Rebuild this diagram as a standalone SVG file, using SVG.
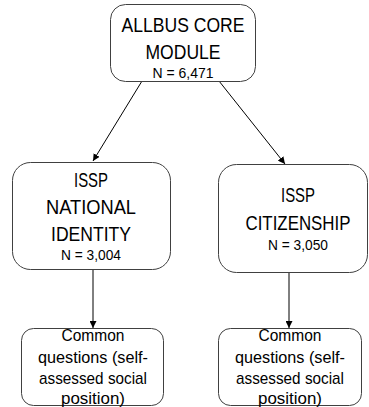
<svg xmlns="http://www.w3.org/2000/svg" width="369" height="407" viewBox="0 0 369 407">
<defs>
<marker id="ah" viewBox="0 0 10 10" refX="10" refY="5" markerWidth="7" markerHeight="7" orient="auto" markerUnits="userSpaceOnUse">
<path d="M0,0 L10,5 L0,10 z" fill="#000"/>
</marker>
<style>
.box{fill:#fff;stroke:#404040;stroke-width:1}
.t{font-family:"Liberation Sans",Arial,sans-serif;fill:#000;text-anchor:middle}
.big{font-size:21px}
.sm{font-size:15px}
.md{font-size:17px}
.ln{stroke:#000;stroke-width:1;fill:none;marker-end:url(#ah)}
</style>
</defs>
<rect width="369" height="407" fill="#fff"/>
<g id="connectors">
<line class="ln" x1="142" y1="81" x2="93" y2="161"/>
<line class="ln" x1="219" y1="81" x2="285" y2="164"/>
<line class="ln" x1="93" y1="270" x2="93" y2="328"/>
<line class="ln" x1="289" y1="273" x2="289" y2="328"/>
</g>
<g id="allbus">
<rect class="box" x="110.5" y="4.5" width="145" height="77" rx="15"/>
<text class="t big" x="183" y="32" textLength="123" lengthAdjust="spacingAndGlyphs">ALLBUS CORE</text>
<text class="t big" x="183" y="59" textLength="75" lengthAdjust="spacingAndGlyphs">MODULE</text>
<text class="t sm" x="183" y="78" textLength="61" lengthAdjust="spacingAndGlyphs">N = 6,471</text>
</g>
<g id="national">
<rect class="box" x="12.5" y="162.5" width="158" height="107" rx="18"/>
<text class="t big" x="91" y="187" textLength="34" lengthAdjust="spacingAndGlyphs">ISSP</text>
<text class="t big" x="91" y="214" textLength="90" lengthAdjust="spacingAndGlyphs">NATIONAL</text>
<text class="t big" x="91" y="241" textLength="80" lengthAdjust="spacingAndGlyphs">IDENTITY</text>
<text class="t sm" x="91" y="260" textLength="60" lengthAdjust="spacingAndGlyphs">N = 3,004</text>
</g>
<g id="citizenship">
<rect class="box" x="218.5" y="164.5" width="149" height="108" rx="18"/>
<text class="t big" x="298" y="202" textLength="34" lengthAdjust="spacingAndGlyphs">ISSP</text>
<text class="t big" x="298" y="230" textLength="105" lengthAdjust="spacingAndGlyphs">CITIZENSHIP</text>
<text class="t sm" x="298" y="250" textLength="60" lengthAdjust="spacingAndGlyphs">N = 3,050</text>
</g>
<g id="common-left">
<rect class="box" x="21.5" y="328.5" width="142" height="77" rx="12"/>
<text class="t md" x="93" y="341" textLength="63" lengthAdjust="spacingAndGlyphs">Common</text>
<text class="t md" x="93" y="363" textLength="110" lengthAdjust="spacingAndGlyphs">questions (self-</text>
<text class="t md" x="93" y="384" textLength="108" lengthAdjust="spacingAndGlyphs">assessed social</text>
<text class="t md" x="93" y="404" textLength="64" lengthAdjust="spacingAndGlyphs">position)</text>
</g>
<g id="common-right">
<rect class="box" x="218.5" y="328.5" width="143" height="77" rx="12"/>
<text class="t md" x="290" y="341" textLength="63" lengthAdjust="spacingAndGlyphs">Common</text>
<text class="t md" x="290" y="363" textLength="110" lengthAdjust="spacingAndGlyphs">questions (self-</text>
<text class="t md" x="290" y="384" textLength="108" lengthAdjust="spacingAndGlyphs">assessed social</text>
<text class="t md" x="290" y="404" textLength="64" lengthAdjust="spacingAndGlyphs">position)</text>
</g>
</svg>
